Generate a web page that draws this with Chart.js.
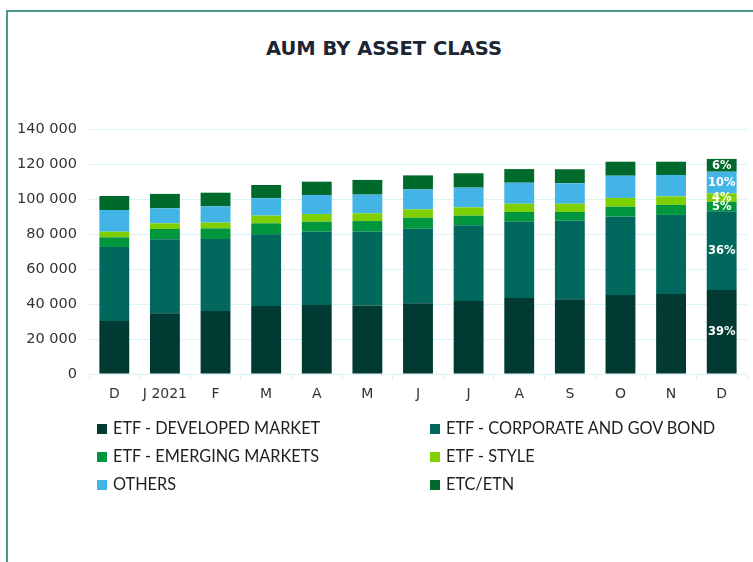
<!DOCTYPE html>
<html>
<head>
<meta charset="utf-8">
<script src="https://cdn.jsdelivr.net/npm/chart.js@4/dist/chart.umd.min.js"></script>
<style>
  html, body { margin: 0; padding: 0; background: #ffffff; }
  body { width: 753px; height: 562px; position: relative; overflow: hidden; }
  #frame { position: absolute; left: 6px; top: 10px; right: -10px; bottom: -10px;
           border-left: 2px solid #4a9a8b; border-top: 2px solid #4a9a8b; }
  #title { position: absolute; left: 0; width: 768px; top: 37px; text-align: center;
           font-family: "DejaVu Sans", Verdana, sans-serif; font-weight: bold; font-size: 19.5px;
           color: #1b2533; }
  canvas { position: absolute; left: 0; top: 0; }
  #legend { position: absolute; left: 97px; top: 418px; width: 650px;
            font-family: Lato, "Open Sans", sans-serif; font-size: 16.3px; color: #1f1f1f; }
  .item { position: absolute; height: 20px; line-height: 20px; white-space: nowrap; }
  .sw { display: inline-block; width: 10px; height: 10px; margin-right: 6px; vertical-align: 0px; }
</style>
</head>
<body>
<div id="frame"></div>
<div id="title">AUM BY ASSET CLASS</div>
<canvas id="c" width="753" height="562"></canvas>
<div id="legend"></div>
<script>
// ---- data ----
const categories = ['D', 'J 2021', 'F', 'M', 'A', 'M', 'J', 'J', 'A', 'S', 'O', 'N', 'D'];
const developedMarket = [30300, 34700, 36000, 38900, 39400, 39200, 40400, 41700, 43400, 42700, 45100, 45700, 48000];
const corporateGovBond = [42300, 42300, 41100, 40900, 41900, 42100, 42600, 43300, 43600, 44900, 44800, 45200, 45000];
const emergingMarkets = [5500, 5900, 6100, 6300, 5700, 6100, 6300, 5500, 5600, 5000, 5700, 5700, 5400];
const styleEtf = [3200, 3200, 3300, 4400, 4400, 4400, 4800, 4700, 4700, 4700, 5000, 4900, 4800];
const others = [12400, 8600, 9300, 9900, 10900, 10700, 11400, 11300, 12000, 11700, 12700, 12200, 12400];
const etcEtn = [8000, 8200, 7800, 7600, 7600, 8400, 8000, 8200, 7800, 8000, 8000, 7600, 7300];
const seriesNames = ['ETF - DEVELOPED MARKET', 'ETF - CORPORATE AND GOV BOND', 'ETF - EMERGING MARKETS', 'ETF - STYLE', 'OTHERS', 'ETC/ETN'];
const lastBarShares = ['39%', '36%', '5%', '4%', '10%', '6%'];
const yTicks = [0, 20000, 40000, 60000, 80000, 100000, 120000, 140000];

const colors = ['#003a33', '#00685c', '#00963e', '#7ed000', '#43b4e6', '#006a2c'];
const seriesValues = [developedMarket, corporateGovBond, emergingMarkets, styleEtf, others, etcEtn];

const datasets = seriesNames.map((name, i) => ({
  label: name,
  data: seriesValues[i],
  backgroundColor: colors[i],
  borderWidth: 0,
  barPercentage: 0.59,
  categoryPercentage: 1.0
}));

const lastLabels = {
  id: 'lastLabels',
  afterDatasetsDraw(chart) {
    const ctx = chart.ctx;
    const last = categories.length - 1;
    ctx.save();
    ctx.font = 'bold 11.5px "DejaVu Sans", Verdana, sans-serif';
    ctx.fillStyle = '#ffffff';
    ctx.textAlign = 'center';
    ctx.textBaseline = 'middle';
    chart.data.datasets.forEach((ds, i) => {
      const el = chart.getDatasetMeta(i).data[last];
      const c = el.getCenterPoint();
      ctx.fillText(lastBarShares[i], c.x, c.y + 0.5);
    });
    ctx.restore();
  }
};

const fmt = v => String(v).replace(/\B(?=(\d{3})+(?!\d))/g, ' ');
const gridColor = '#d8f4f6';

new Chart(document.getElementById('c'), {
  type: 'bar',
  data: { labels: categories, datasets },
  options: {
    responsive: false,
    animation: false,
    devicePixelRatio: 1,
    layout: { padding: { left: 0, right: 6, top: 129, bottom: 0 } },
    plugins: { legend: { display: false }, title: { display: false }, tooltip: { enabled: false } },
    scales: {
      x: {
        stacked: true,
        grid: { display: true, drawOnChartArea: false, drawTicks: true, tickLength: 6, color: gridColor, offset: true },
        border: { display: true, color: gridColor },
        ticks: { color: '#333333', font: { family: '"DejaVu Sans", Verdana, sans-serif', size: 14 }, padding: 6, maxRotation: 0, autoSkip: false },
        afterFit: s => { s.height = 188; }
      },
      y: {
        stacked: true,
        min: 0, max: 140000,
        afterBuildTicks: s => { s.ticks = yTicks.map(v => ({ value: v })); },
        grid: { color: gridColor, drawTicks: false, lineWidth: 1 },
        border: { display: false },
        ticks: { color: '#333333', font: { family: '"DejaVu Sans", Verdana, sans-serif', size: 14.5 }, padding: 12, callback: v => fmt(v) },
        afterFit: s => { s.width = 89; }
      }
    }
  },
  plugins: [lastLabels]
});

// HTML legend built from the dataset names/colours (two columns)
const legend = document.getElementById('legend');
seriesNames.forEach((name, i) => {
  const row = Math.floor(i / 2), col = i % 2;
  const d = document.createElement('div');
  d.className = 'item';
  d.style.left = (col * 333) + 'px';
  d.style.top = (row * 28) + 'px';
  const sw = document.createElement('span');
  sw.className = 'sw';
  sw.style.background = colors[i];
  d.appendChild(sw);
  d.appendChild(document.createTextNode(name));
  legend.appendChild(d);
});
</script>
</body>
</html>
